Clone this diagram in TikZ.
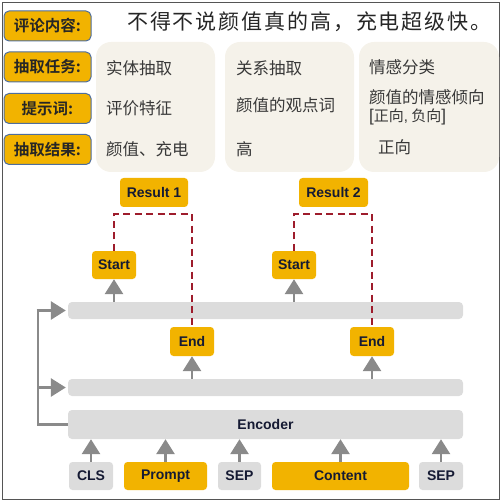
\documentclass[tikz,border=0pt]{standalone}
\usepackage{fontspec}
\setmainfont{Liberation Sans}
\newfontfamily\cjk{Noto Sans CJK SC}
\newfontfamily\cjkb{Noto Sans CJK SC Bold}
\usetikzlibrary{arrows.meta,positioning,calc}
\definecolor{orangeY}{HTML}{F2B300}
\definecolor{labelBorder}{HTML}{4E6E9E}
\definecolor{barGray}{HTML}{DCDCDC}
\definecolor{beige}{HTML}{F5F2EA}
\definecolor{arrGray}{HTML}{8A8A8A}
\definecolor{dashRed}{HTML}{9E1C2C}
\definecolor{navy}{HTML}{151A33}
\definecolor{txtGray}{HTML}{383838}
\definecolor{frameGray}{HTML}{555555}
\begin{document}
\begin{tikzpicture}[x=1pt,y=-1pt,
  labelbox/.style={draw=labelBorder,line width=1pt,fill=orangeY,rounded corners=5pt,
    minimum width=87pt,minimum height=30pt,inner sep=0pt,
    font={\cjkb\fontsize{15.5}{15.5}\selectfont},text=black!85},
  panel/.style={fill=beige,rounded corners=15pt,minimum height=130pt,inner sep=0pt},
  ptext/.style={anchor=west,inner sep=0pt,font={\cjk\fontsize{16.5}{19}\selectfont},text=txtGray},
  obox/.style={fill=orangeY,rounded corners=3.5pt,inner sep=0pt,minimum height=28pt,
    font={\bfseries\fontsize{14}{14}\selectfont},text=navy},
  gbox/.style={fill=barGray,rounded corners=3.5pt,inner sep=0pt,minimum height=28pt,
    font={\bfseries\fontsize{14}{14}\selectfont},text=navy},
  bar/.style={fill=barGray,rounded corners=4pt,inner sep=0pt,minimum width=395pt},
  garrow/.style={draw=arrGray,line width=2.8pt,-{Triangle[width=18pt,length=15pt]},arrGray},
  gline/.style={draw=arrGray,line width=2.8pt},
  rdash/.style={draw=dashRed,line width=1.8pt,dash pattern=on 7pt off 4.5pt}
]
\useasboundingbox (0,0) rectangle (502,502);
\draw[frameGray,line width=1pt] (2.5,2.5) rectangle (499.5,499.5);

% left labels
\node[labelbox] (l1) at (47.5,26) {评论内容:};
\node[labelbox] (l2) at (47.5,67) {抽取任务:};
\node[labelbox] (l3) at (47.5,108.5) {提示词:};
\node[labelbox] (l4) at (47.5,149.5) {抽取结果:};

% title sentence
\node[anchor=west,inner sep=0pt,font={\cjk\fontsize{21}{21}\selectfont\addfontfeature{LetterSpace=9}},text=black!85] (title) at (127,22) {不得不说颜值真的高，充电超级快。};

% panels
\node[panel,minimum width=119pt] (p1) at (155.5,107) {};
\node[panel,minimum width=129pt] (p2) at (289.5,107) {};
\node[panel,minimum width=140pt] (p3) at (429,107) {};

\node[ptext] (t11) at (106,68) {实体抽取};
\node[ptext] (t12) at (106,108) {评价特征};
\node[ptext] (t13) at (106,149) {颜值、充电};

\node[ptext] (t21) at (236,68) {关系抽取};
\node[ptext] (t22) at (236,105) {颜值的观点词};
\node[ptext] (t23) at (236,149) {高};

\node[ptext] (t31) at (369,67) {情感分类};
\node[ptext] (t32) at (369,97) {颜值的情感倾向};
\node[ptext,font={\cjk\fontsize{15}{17}\selectfont}] (t33) at (369,117) {{\rmfamily\fontsize{17}{17}\selectfont[}正向{\rmfamily,} 负向{\rmfamily\fontsize{17}{17}\selectfont]}};
\node[ptext] (t34) at (378,147) {正向};

% bars
\node[bar,minimum height=17pt] (bar1) at (265.5,310.5) {};
\node[bar,minimum height=17pt] (bar2) at (265.5,387.5) {};
\node[bar,minimum height=29pt,font={\bfseries\fontsize{14}{14}\selectfont},text=navy] (enc) at (265.5,424.5) {Encoder};

% results, starts, ends
\node[obox,minimum width=68pt,minimum height=29pt] (r1) at (154,192.5) {Result 1};
\node[obox,minimum width=69pt,minimum height=29pt] (r2) at (333.5,192.5) {Result 2};
\node[obox,minimum width=44pt] (s1) at (114,265) {Start};
\node[obox,minimum width=44pt] (s2) at (294,265) {Start};
\node[obox,minimum width=44pt,minimum height=29pt] (e1) at (192,341.5) {End};
\node[obox,minimum width=44pt,minimum height=29pt] (e2) at (372,341.5) {End};

% tokens
\node[gbox,minimum width=44pt] (cls) at (91,476) {CLS};
\node[obox,minimum width=83pt] (prompt) at (165.5,476) {Prompt};
\node[gbox,minimum width=43pt] (sep1) at (239.5,476) {SEP};
\node[obox,minimum width=137pt] (content) at (340.5,476) {Content};
\node[gbox,minimum width=44pt] (sep2) at (441,476) {SEP};

% token arrows
\foreach \t in {cls,prompt,sep1,content,sep2}
  \draw[garrow] (\t.north) -- (\t.north |- enc.south);

% bar to start / end arrows
\draw[garrow] (bar1.north -| s1) -- (s1.south);
\draw[garrow] (bar1.north -| s2) -- (s2.south);
\draw[garrow] (bar2.north -| e1) -- (e1.south);
\draw[garrow] (bar2.north -| e2) -- (e2.south);

% left feedback connector
\coordinate (lx) at (38,0);
\draw[gline] (enc.west) -- (enc.west -| lx) -- (bar1.west -| lx);
\draw[garrow] ([xshift=-1.4pt]bar1.west -| lx) -- ([xshift=-2pt]bar1.west);
\draw[garrow] (bar2.west -| lx) -- ([xshift=-2pt]bar2.west);

% dashed result links
\coordinate (dy) at (0,214);
\draw[rdash] (s1.north) -- (s1.north |- dy) -- (e1.north |- dy) -- (e1.north);
\draw[rdash] (s2.north) -- (s2.north |- dy) -- (e2.north |- dy) -- (e2.north);
\end{tikzpicture}
\end{document}
